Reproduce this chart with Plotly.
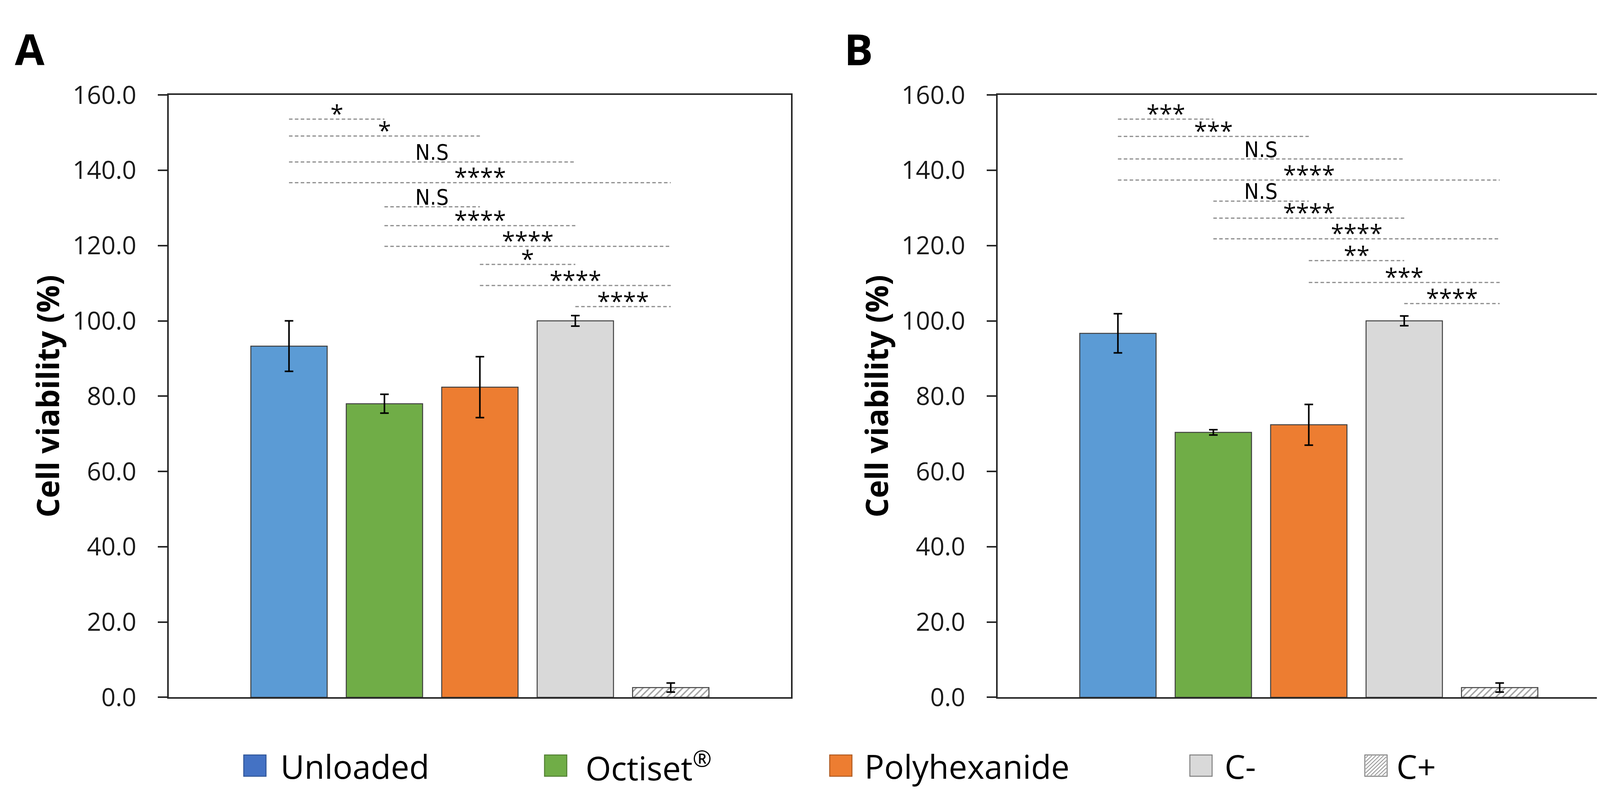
import plotly.graph_objects as go

# ---------------- data ----------------
categories = ["Unloaded", "Octiset®", "Polyhexanide", "C-", "C+"]

values_A = [93.3, 78.0, 82.4, 100.0, 2.6]
errors_A = [6.7, 2.5, 8.1, 1.4, 1.2]

values_B = [96.7, 70.4, 72.4, 100.0, 2.6]
errors_B = [5.2, 0.7, 5.4, 1.3, 1.2]

sig_from = ["Unloaded", "Unloaded", "Unloaded", "Unloaded", "Octiset®",
            "Octiset®", "Octiset®", "Polyhexanide", "Polyhexanide", "C-"]
sig_to = ["Octiset®", "Polyhexanide", "C-", "C+", "Polyhexanide",
          "C-", "C+", "C-", "C+", "C+"]

sig_y_A = [153.6, 149.1, 142.2, 136.7, 130.3, 125.3, 119.8, 115.0, 109.4, 103.8]
sig_lab_A = ["*", "*", "N.S", "****", "N.S", "****", "****", "*", "****", "****"]

sig_y_B = [153.6, 149.0, 143.0, 137.4, 131.8, 127.3, 121.8, 116.0, 110.2, 104.6]
sig_lab_B = ["***", "***", "N.S", "****", "N.S", "****", "****", "**", "***", "****"]

y_ticks = [0, 20, 40, 60, 80, 100, 120, 140, 160]
y_tick_labels = ["0.0", "20.0", "40.0", "60.0", "80.0", "100.0", "120.0", "140.0", "160.0"]

legend_names = ["Unloaded", "Octiset<sup>®</sup>", "Polyhexanide", "C-", "C+"]

# ---------------- style ----------------
W, H = 4176, 2056
bar_colors = ["#5B9BD5", "#70AD47", "#ED7D31", "#D9D9D9", "#FFFFFF"]
bar_patterns = ["", "", "", "", "/"]
legend_colors = ["#4472C4", "#70AD47", "#ED7D31", "#D9D9D9", "#FFFFFF"]
legend_borders = ["#2F5597", "#507E32", "#AE5A21", "#7F7F7F", "#7F7F7F"]
frame_color = "#262626"
sig_line_color = "#8C8C8C"
text_offset = 2.6  # data units between line and label centre


def px_x(p):
    return p / W


def px_y(p):
    return 1 - p / H


domA = [px_x(424), px_x(2017)]
domB = [px_x(2546), px_x(4139)]
domY = [px_y(1808), px_y(197.6)]

fig = go.Figure()

for vals, errs, xa, ya in [(values_A, errors_A, "x", "y"), (values_B, errors_B, "x2", "y2")]:
    fig.add_trace(go.Bar(
        x=categories, y=vals, xaxis=xa, yaxis=ya,
        marker=dict(color=bar_colors,
                    line=dict(color="#404040", width=2.5),
                    pattern=dict(shape=bar_patterns, fgcolor="#8C8C8C",
                                 bgcolor="#FFFFFF", size=12, solidity=0.3)),
        error_y=dict(type="data", array=errs, visible=True,
                     color="#000000", thickness=4, width=11),
        width=0.8, showlegend=False, hoverinfo="skip",
    ))

axis_common_y = dict(
    range=[0, 160], tickvals=y_ticks, ticktext=y_tick_labels,
    showgrid=False, zeroline=False, showline=True, mirror=True,
    linecolor=frame_color, linewidth=4,
    ticks="outside", ticklen=24, tickwidth=4, tickcolor=frame_color,
    tickfont=dict(family="Open Sans", size=64, color="#1a1a1a"),
    ticklabelstandoff=42,
    title=dict(text="<b>Cell viability (%)</b>",
               font=dict(family="Open Sans", size=78, color="#000000"),
               standoff=10),
)
axis_common_x = dict(
    range=[-1.26, 5.26], type="category", categoryorder="array",
    categoryarray=categories,
    showgrid=False, zeroline=False, showline=True, mirror=True,
    linecolor=frame_color, linewidth=4, ticks="", showticklabels=False,
)

shapes = []
annotations = []

for sy, sl, xr, yr in [(sig_y_A, sig_lab_A, "x", "y"), (sig_y_B, sig_lab_B, "x2", "y2")]:
    for f, t, yv, lab in zip(sig_from, sig_to, sy, sl):
        i0 = categories.index(f)
        i1 = categories.index(t)
        shapes.append(dict(type="line", xref=xr, yref=yr, x0=i0, x1=i1, y0=yv, y1=yv,
                           line=dict(color=sig_line_color, width=3, dash="9px,6px")))
        is_star = "*" in lab
        annotations.append(dict(
            xref=xr, yref=yr, x=(i0 + i1) / 2,
            y=yv + text_offset - (1.0 if is_star else 0.0),
            text=lab, showarrow=False, xanchor="center", yanchor="middle",
            font=dict(family="Open Sans" if is_star else "DejaVu Sans Condensed, sans-serif",
                      size=60 if is_star else 56, color="#000000"),
        ))

# panel labels
for lab, cx in [("A", 68), ("B", 2190)]:
    annotations.append(dict(xref="paper", yref="paper", x=px_x(cx), y=px_y(73),
                            text="<b>" + lab + "</b>", showarrow=False,
                            xanchor="center", yanchor="middle",
                            font=dict(family="Open Sans", size=110, color="#000000")))

# legend (drawn manually so the swatches keep the reference size)
sw_x = [616, 1386, 2116, 3038, 3486]
tx_x = [708, 1489, 2203, 3125, 3565]
sw_size = 57
sw_top, sw_bot = 1962, 2019
for k, name in enumerate(legend_names):
    x0 = sw_x[k]
    shapes.append(dict(type="rect", xref="paper", yref="paper",
                       x0=px_x(x0), x1=px_x(x0 + sw_size), y0=px_y(sw_bot), y1=px_y(sw_top),
                       fillcolor=legend_colors[k], line=dict(color=legend_borders[k], width=2.5)))
    annotations.append(dict(xref="paper", yref="paper", x=px_x(tx_x[k]), y=px_y(1992),
                            text=name, showarrow=False, xanchor="left", yanchor="middle",
                            font=dict(family="Open Sans", size=84, color="#000000")))
    if bar_patterns[k] == "/":
        xl, xr_, yt, yb = x0 + 2, x0 + sw_size - 2, sw_top + 2, sw_bot - 2
        c = xl + yt + 6
        while c < xr_ + yb - 4:
            xa0 = max(xl, c - yb)
            xa1 = min(xr_, c - yt)
            if xa1 > xa0:
                shapes.append(dict(type="line", xref="paper", yref="paper",
                                   x0=px_x(xa0), y0=px_y(c - xa0), x1=px_x(xa1), y1=px_y(c - xa1),
                                   line=dict(color="#8C8C8C", width=2)))
            c += 10

fig.update_layout(
    width=W, height=H,
    margin=dict(l=0, r=0, t=0, b=0),
    paper_bgcolor="#FFFFFF", plot_bgcolor="#FFFFFF",
    barmode="overlay",
    xaxis=dict(domain=domA, anchor="y", **axis_common_x),
    yaxis=dict(domain=domY, anchor="x", **axis_common_y),
    xaxis2=dict(domain=domB, anchor="y2", **axis_common_x),
    yaxis2=dict(domain=domY, anchor="x2", **axis_common_y),
    shapes=shapes, annotations=annotations,
    showlegend=False,
)

fig.write_html("out.html")
